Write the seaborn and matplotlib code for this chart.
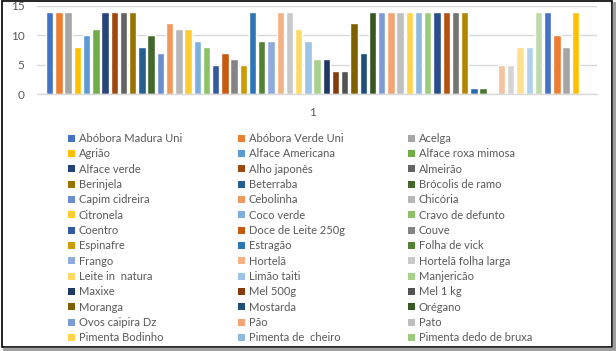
import matplotlib
matplotlib.use('Agg')
import matplotlib.pyplot as plt
from matplotlib.patches import Patch, Rectangle
from matplotlib.lines import Line2D
import seaborn as sns
import pandas as pd

# --- data: one category ("1"), 58 series ---
categoria = ['1']

produtos = [
    'Abóbora Madura Uni', 'Abóbora Verde Uni', 'Acelga',
    'Agrião', 'Alface Americana', 'Alface roxa mimosa',
    'Alface verde', 'Alho japonês', 'Almeirão',
    'Berinjela', 'Beterraba', 'Brócolis de ramo',
    'Capim cidreira', 'Cebolinha', 'Chicória',
    'Citronela', 'Coco verde', 'Cravo de defunto',
    'Coentro', 'Doce de Leite 250g', 'Couve',
    'Espinafre', 'Estragão', 'Folha de vick',
    'Frango', 'Hortelã', 'Hortelã folha larga',
    'Leite in  natura', 'Limão taiti', 'Manjericão',
    'Maxixe', 'Mel 500g', 'Mel 1 kg',
    'Moranga', 'Mostarda', 'Orégano',
    'Ovos caipira Dz', 'Pão', 'Pato',
    'Pimenta Bodinho', 'Pimenta de  cheiro', 'Pimenta dedo de bruxa',
]
# series whose names are cut off from the legend in the original
ocultos = ['Série %d' % i for i in range(43, 59)]

valores = [14, 14, 14, 8, 10, 11, 14, 14, 14, 14, 8, 10, 7, 12, 11, 11, 9, 8,
           5, 7, 6, 5, 14, 9, 9, 14, 14, 11, 9, 6, 6, 4, 4, 12, 7, 14,
           14, 14, 14, 14, 14, 14, 14, 14, 14, 14, 1, 1, 0, 5, 5, 8, 8, 14,
           14, 10, 8, 14]

cores = ['#4472C4', '#ED7D31', '#A5A5A5', '#FFC000', '#5B9BD5', '#70AD47',
         '#264478', '#9E480E', '#636363', '#997300', '#255E91', '#43682B',
         '#698ED0', '#F1975A', '#B7B7B7', '#FFCD33', '#7CAFDD', '#8CC168',
         '#335AA1', '#C55A11', '#848484', '#CC9A00', '#2E75B6', '#548235',
         '#8FAADC', '#F4B183', '#C9C9C9', '#FFD966', '#9DC3E6', '#A9D18E',
         '#203864', '#843C0C', '#525252', '#7F6000', '#1F4E79', '#385723',
         '#7C9CD6', '#F3A474', '#BFBFBF', '#FFD44D', '#8DB9E2', '#9BCB7B',
         '#2A4D8C', '#B5500F', '#747474', '#B38600', '#2A6BAB', '#4A7530',
         '#A3BBE5', '#F6C2A0', '#D5D5D5', '#FFE08C', '#B0D0EE', '#BEDCAB',
         '#4472C4', '#ED7D31', '#A5A5A5', '#FFC000']

nomes = produtos + ocultos

df = pd.DataFrame({'cat': categoria * len(nomes), 'produto': nomes, 'valor': valores})

sns.set_style('white')
plt.rcParams['font.family'] = ['Lato', 'DejaVu Sans']
cinza = '#595959'

fig = plt.figure(figsize=(6.16, 3.51), dpi=100)
ax = fig.add_axes([37 / 616, 1 - 94.3 / 351, 560 / 616, 88.6 / 351])

sns.barplot(data=df, x='cat', y='valor', hue='produto', hue_order=nomes,
            palette=cores, width=0.955, gap=0.2, legend=False, ax=ax,
            saturation=1)

ax.set_xlim(-0.492, 0.508)
ax.set_ylim(0, 15)
ax.set_yticks([0, 5, 10, 15])
ax.yaxis.grid(True, color='#D9D9D9', linewidth=1)
ax.set_axisbelow(True)
for s in ['top', 'right', 'left']:
    ax.spines[s].set_visible(False)
ax.spines['bottom'].set_color('#D9D9D9')
ax.spines['bottom'].set_linewidth(1)
ax.tick_params(axis='y', length=0, pad=9, labelsize=8.5, labelcolor=cinza)
ax.tick_params(axis='x', length=0, pad=9, labelsize=8.5, labelcolor=cinza)
ax.set_xlabel('')
ax.set_ylabel('')

# legend: three columns, row-wise order as in the original
xs = [68 / 616, 238 / 616, 408 / 616]
for c in range(3):
    itens = list(range(c, len(produtos), 3))
    handles = [Patch(facecolor=cores[i], edgecolor='none') for i in itens]
    labels = [produtos[i] for i in itens]
    leg = fig.legend(handles, labels, loc='upper left',
                     bbox_to_anchor=(xs[c], 1 - 133 / 351), frameon=False,
                     fontsize=8, handlelength=0.6, handleheight=0.6,
                     handletextpad=0.35, labelspacing=0.39, borderpad=0,
                     borderaxespad=0)
    for t in leg.get_texts():
        t.set_color(cinza)

# chart frame with shadow
fig.add_artist(Line2D([614 / 616, 614 / 616], [1 - 349 / 351, 1 - 3 / 351],
                      color='#A0A0A0', lw=2.5, transform=fig.transFigure))
fig.add_artist(Line2D([4 / 616, 614 / 616], [1 - 349 / 351, 1 - 349 / 351],
                      color='#A0A0A0', lw=2.5, transform=fig.transFigure))
fig.add_artist(Rectangle((1.5 / 616, 1 - 346.5 / 351), 610.5 / 616, 346 / 351,
                         fill=False, edgecolor='black', lw=1.2,
                         transform=fig.transFigure))

fig.savefig('out.png', dpi=100)
